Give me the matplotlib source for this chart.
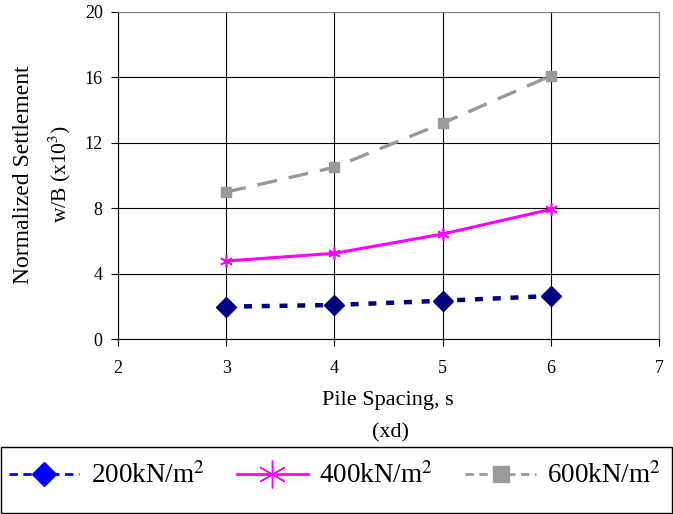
import numpy as np
import matplotlib.pyplot as plt
from matplotlib.lines import Line2D
from matplotlib.patches import Rectangle

plt.rcParams['font.family'] = ['Liberation Serif', 'DejaVu Serif']
plt.rcParams['mathtext.fontset'] = 'stix'

# Данные
spacing = [3, 4, 5, 6]
s200 = [1.98, 2.08, 2.34, 2.63]
s400 = [4.77, 5.24, 6.42, 7.93]
s600 = [8.99, 10.5, 13.2, 16.1]
labels = ['200kN/m$^2$', '400kN/m$^2$', '600kN/m$^2$']

fig = plt.figure(figsize=(6.73, 5.14), dpi=100)
ax = fig.add_axes([118/673, 1 - 339/514, (659 - 118)/673, (339 - 12)/514])

ax.plot(spacing, s200, color='#000080', linestyle=(0, (1.8, 2.2)), linewidth=3.2,
        marker='D', markersize=10, zorder=3)
ax.plot(spacing, s400, color='#FF00FF', linestyle='-', linewidth=2.2,
        marker=(6, 2, 0), markersize=9, markeredgewidth=1.2, zorder=3)
ax.plot(spacing, s600, color='#999999', linestyle=(0, (6, 3.6)), linewidth=2.4,
        marker='s', markersize=6.5, zorder=3)

ax.set_xlim(2, 7)
ax.set_ylim(0, 20)
ax.set_xticks(range(2, 8))
ax.set_yticks(range(0, 21, 4))
ax.grid(True, color='black', linewidth=0.8)
ax.set_axisbelow(True)
ax.tick_params(labelsize=13, direction='out', length=5, colors='black')
ax.tick_params(axis='x', pad=10)
ax.tick_params(axis='y', pad=6)
for side in ['left', 'bottom']:
    ax.spines[side].set_color('black')
for side in ['right', 'top']:
    ax.spines[side].set_color('#808080')

# подпись оси Y в две строки разного размера
fig.text(24/673, 1 - 175/514, 'Normalized Settlement', rotation=90,
         ha='center', va='center', fontsize=17)
fig.text(60/673, 1 - 174/514, 'w/B (x10$^3$)', rotation=90,
         ha='center', va='center', fontsize=15.5)
fig.text(388/673, 1 - 400/514, 'Pile Spacing, s', ha='center', va='center', fontsize=16)
fig.text(390/673, 1 - 433/514, '(xd)', ha='center', va='center', fontsize=16)

# рамка легенды
fig.patches.append(Rectangle((1/673, 1 - 513/514), 671/673, 66/514,
                             transform=fig.transFigure, fill=False,
                             edgecolor='black', linewidth=1))

handles = [
    Line2D([], [], color='#0000FF', linestyle=(0, (3, 2)), linewidth=2,
           marker='D', markersize=12),
    Line2D([], [], color='#FF00FF', linestyle='-', linewidth=2,
           marker=(6, 2, 0), markersize=20, markeredgewidth=1),
    Line2D([], [], color='#999999', linestyle=(0, (3, 2)), linewidth=2,
           marker='s', markersize=12),
]
leg = fig.legend(handles, labels, loc='center', bbox_to_anchor=(335/673, 1 - 476/514),
                 ncol=3, fontsize=19.5, frameon=False,
                 handlelength=2.6, columnspacing=1.2, handletextpad=0.42)

fig.savefig('out.png', dpi=100)
